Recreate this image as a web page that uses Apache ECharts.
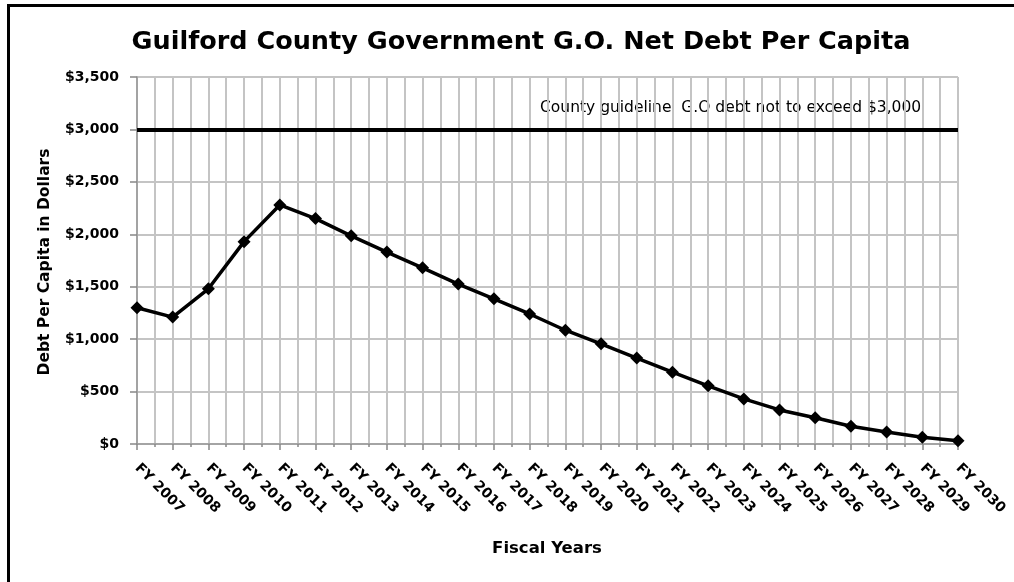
<!DOCTYPE html>
<html>
<head>
<meta charset="utf-8">
<script src="https://cdn.jsdelivr.net/npm/echarts@6/dist/echarts.min.js"></script>
<style>
html,body{margin:0;padding:0;background:#fff;}
#chart{width:1014px;height:582px;}
</style>
</head>
<body>
<div id="chart"></div>
<script>
const categories = ['FY 2007','FY 2008','FY 2009','FY 2010','FY 2011','FY 2012','FY 2013','FY 2014','FY 2015','FY 2016','FY 2017','FY 2018','FY 2019','FY 2020','FY 2021','FY 2022','FY 2023','FY 2024','FY 2025','FY 2026','FY 2027','FY 2028','FY 2029','FY 2030'];
const debtPerCapita = [1300,1210,1480,1930,2280,2150,1985,1830,1680,1525,1385,1240,1085,955,820,685,555,430,325,250,170,115,65,30];
const guideline = 3000;
const guidelineText = 'County guideline  G.O debt not to exceed $3,000';
const yMin = 0, yMax = 3500, yStep = 500;
const titleText = 'Guilford County Government G.O. Net Debt Per Capita';
const yAxisTitle = 'Debt Per Capita in Dollars';
const xAxisTitle = 'Fiscal Years';

const FONT = '"DejaVu Sans", "Liberation Sans", Arial, sans-serif';
const chart = echarts.init(document.getElementById('chart'), null, {renderer: 'canvas'});
const gridColor = '#c4c4c4';

chart.setOption({
  animation: false,
  backgroundColor: '#fff',
  title: {
    text: titleText,
    left: 516, top: 24, textAlign: 'center',
    textStyle: {fontFamily: FONT, fontWeight: 'bold', fontSize: 25.5, color: '#000'}
  },
  grid: {left: 137, right: 56, top: 77, bottom: 138, containLabel: false},
  xAxis: {
    type: 'value', min: 0, max: categories.length - 1, interval: 1,
    axisLine: {show: true, onZero: false, lineStyle: {color: '#999', width: 1.5}},
    axisTick: {show: true, length: 6, lineStyle: {color: '#888', width: 1.5}},
    minorTick: {show: true, splitNumber: 2, length: 3, lineStyle: {color: '#888', width: 1.5}},
    splitLine: {show: true, lineStyle: {color: gridColor, width: 2}},
    minorSplitLine: {show: true, lineStyle: {color: gridColor, width: 2}},
    axisLabel: {
      rotate: -45, margin: 22, interval: 0,
      fontFamily: FONT, fontWeight: 'bold', fontSize: 14, color: '#000',
      formatter: v => categories[v] || ''
    }
  },
  yAxis: {
    type: 'value', min: yMin, max: yMax, interval: yStep,
    axisLine: {show: true, lineStyle: {color: '#999', width: 1.5}},
    axisTick: {show: true, length: 7, lineStyle: {color: '#888', width: 1.5}},
    splitLine: {show: true, lineStyle: {color: gridColor, width: 2}},
    axisLabel: {
      margin: 18, fontFamily: FONT, fontWeight: 'bold', fontSize: 14, color: '#000',
      formatter: v => '$' + v.toLocaleString('en-US')
    }
  },
  series: [{
    type: 'line',
    data: debtPerCapita.map((v, i) => [i, v]),
    lineStyle: {color: '#000', width: 3.5},
    itemStyle: {color: '#000'},
    symbol: 'diamond', symbolSize: 13, showSymbol: true,
    z: 5,
    markLine: {
      silent: true, symbol: ['none', 'none'],
      label: {show: false},
      lineStyle: {color: '#000', width: 4, type: 'solid'},
      data: [{yAxis: guideline}]
    }
  }],
  graphic: [
    {type: 'rect', shape: {x: 8.5, y: 5.5, width: 1030, height: 578}, style: {fill: 'none', stroke: '#000', lineWidth: 3}, silent: true},
    {type: 'text', x: 540, y: 108, style: {text: guidelineText, font: '15.5px ' + FONT, fill: '#000', textVerticalAlign: 'middle', textAlign: 'left'}},
    {type: 'text', x: 45, y: 262, rotation: Math.PI / 2, style: {text: yAxisTitle, font: 'bold 15.5px ' + FONT, fill: '#000', textVerticalAlign: 'middle', textAlign: 'center'}},
    {type: 'text', x: 547, y: 549, style: {text: xAxisTitle, font: 'bold 16.5px ' + FONT, fill: '#000', textVerticalAlign: 'middle', textAlign: 'center'}}
  ]
});
</script>
</body>
</html>
